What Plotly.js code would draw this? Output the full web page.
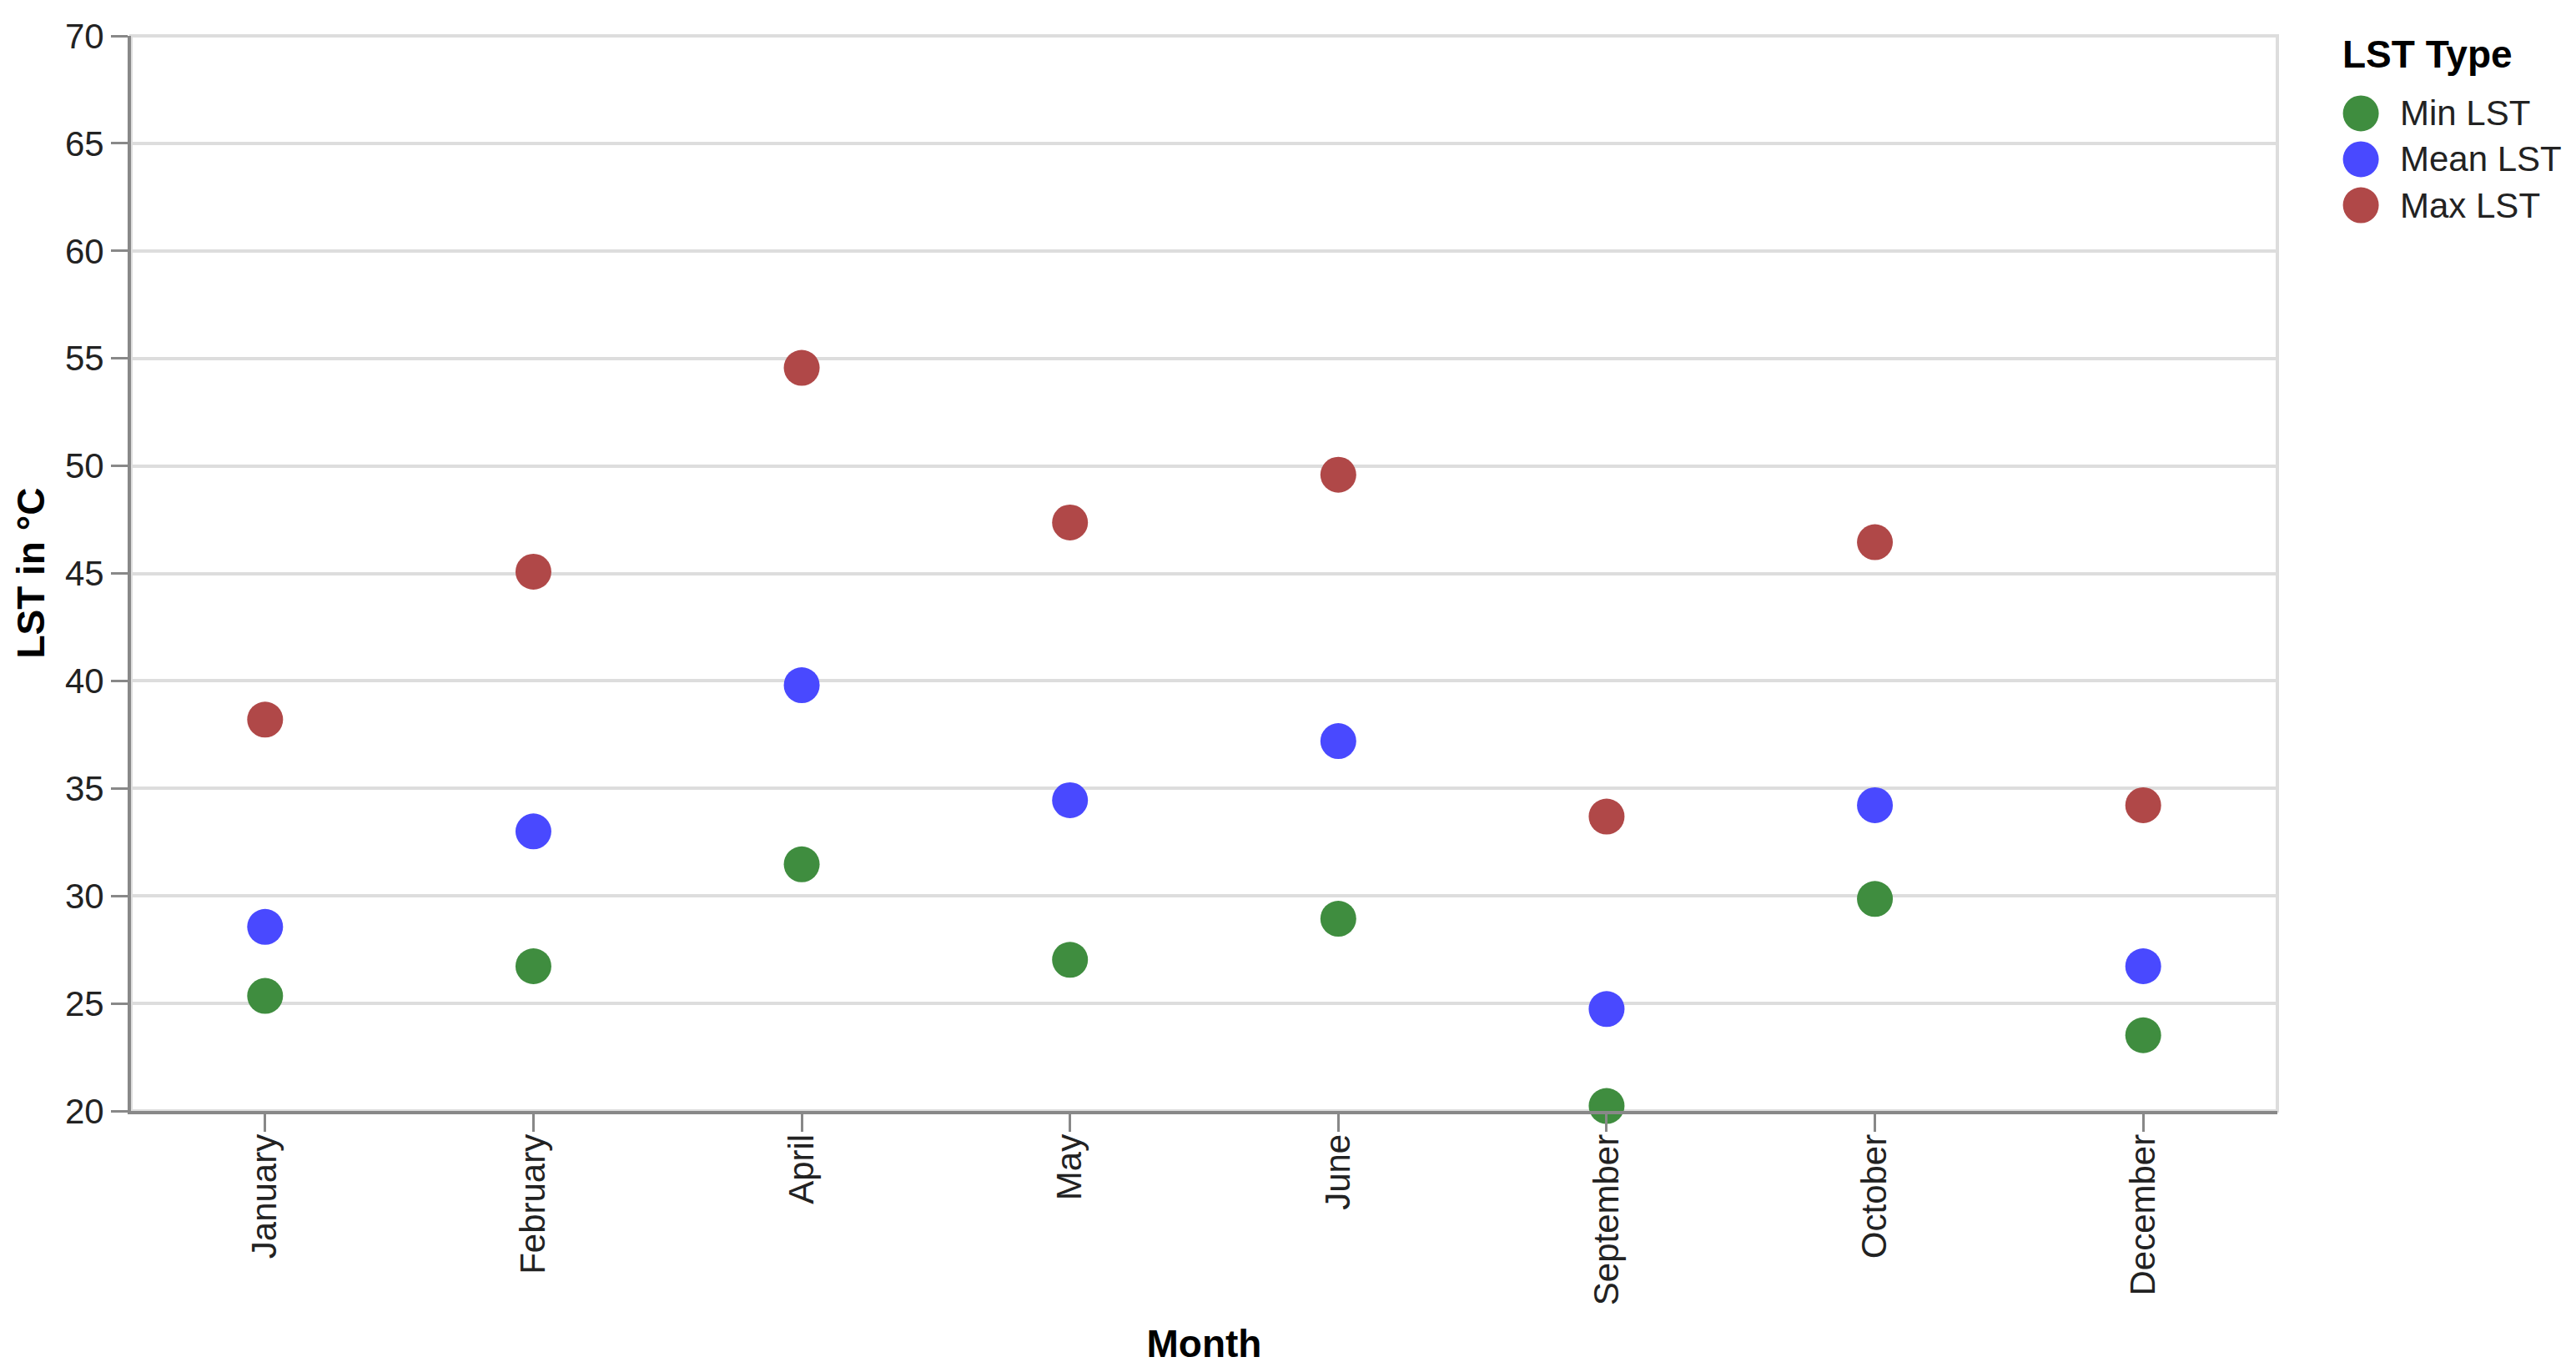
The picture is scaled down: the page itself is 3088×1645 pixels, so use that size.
<!DOCTYPE html>
<html>
<head>
<meta charset="utf-8">
<script src="https://cdn.plot.ly/plotly-3.0.1.min.js"></script>
<style>html,body{margin:0;padding:0;background:#fff;}#chart{width:3088px;height:1645px;}</style>
</head>
<body>
<div id="chart"></div>
<script>
const months = ["January", "February", "April", "May", "June", "September", "October", "December"];
const minLST  = [25.35, 26.73, 31.47, 27.03, 28.94, 20.23, 29.86, 23.52];
const meanLST = [28.56, 33.00, 39.80, 34.45, 37.20, 24.74, 34.22, 26.73];
const maxLST  = [38.20, 45.08, 54.56, 47.37, 49.59, 33.69, 46.45, 34.22];
const seriesNames = ["Min LST", "Mean LST", "Max LST"];
const seriesColors = ["#3f8d3f", "#4949ff", "#b04848"];
const yTicks = [20, 25, 30, 35, 40, 45, 50, 55, 60, 65, 70];

const seriesValues = [minLST, meanLST, maxLST];
const FONT = "Liberation Sans, Arial, sans-serif";

const traces = seriesNames.map((name, i) => ({
  type: "scatter",
  mode: "markers",
  name: name,
  x: months,
  y: seriesValues[i],
  marker: {size: 43, color: seriesColors[i], line: {width: 0}},
  showlegend: false,
  cliponaxis: false
}));

// Custom legend (large symbols like the reference)
const legX = 1.0389, legTextX = 1.0563, legTitleX = 1.0295;
const legY0 = 0.9279, legDY = 0.0427;
const shapes = [
  {type: "rect", xref: "paper", yref: "paper", x0: 0, x1: 1, y0: 0, y1: 1,
   line: {color: "#dddddd", width: 4}, layer: "below"}
];
const annotations = [
  {xref: "paper", yref: "paper", x: legTitleX, y: 0.9829, xanchor: "left", yanchor: "middle",
   text: "<b>LST Type</b>", showarrow: false, font: {family: FONT, size: 46, color: "#000"}},
  // y-axis title
  {xref: "paper", yref: "paper", x: -0.047, y: 0.5, xanchor: "center", yanchor: "middle",
   textangle: -90, text: "<b>LST in °C</b>", showarrow: false, font: {family: FONT, size: 46, color: "#000"}}
];
seriesNames.forEach((name, i) => {
  const yy = legY0 - i * legDY;
  shapes.push({type: "circle", xref: "paper", yref: "paper", xsizemode: "pixel", ysizemode: "pixel",
    xanchor: legX, yanchor: yy, x0: -21.5, x1: 21.5, y0: -21.5, y1: 21.5,
    fillcolor: seriesColors[i], line: {width: 0}});
  annotations.push({xref: "paper", yref: "paper", x: legTextX, y: yy, xanchor: "left", yanchor: "middle",
    text: name, showarrow: false, font: {family: FONT, size: 42, color: "#222"}});
});

const layout = {
  width: 3088, height: 1645,
  paper_bgcolor: "#fff", plot_bgcolor: "#fff",
  margin: {l: 157, r: 358, t: 43, b: 313, autoexpand: false},
  font: {family: FONT, size: 42, color: "#222"},
  showlegend: false,
  xaxis: {
    type: "category", categoryorder: "array", categoryarray: months,
    range: [-0.5, months.length - 0.5],
    showgrid: false, zeroline: false,
    showline: true, linecolor: "#888", linewidth: 4,
    ticks: "outside", ticklen: 21, tickwidth: 3, tickcolor: "#888",
    tickangle: -90, ticklabelstandoff: -14,
    tickfont: {family: FONT, size: 42, color: "#222"},
    title: {text: "<b>Month</b>", font: {family: FONT, size: 46, color: "#000"}, standoff: 32},
    automargin: false, fixedrange: true
  },
  yaxis: {
    range: [20, 70], tickvals: yTicks, ticktext: yTicks.map(String),
    showgrid: true, gridcolor: "#dddddd", gridwidth: 4, zeroline: false,
    showline: true, linecolor: "#888", linewidth: 4,
    ticks: "outside", ticklen: 20, tickwidth: 3, tickcolor: "#888",
    ticklabelstandoff: 0,
    tickfont: {family: FONT, size: 42, color: "#222"},
    automargin: false, fixedrange: true
  },
  shapes: shapes,
  annotations: annotations
};

Plotly.newPlot("chart", traces, layout, {displayModeBar: false, staticPlot: true});
</script>
</body>
</html>
